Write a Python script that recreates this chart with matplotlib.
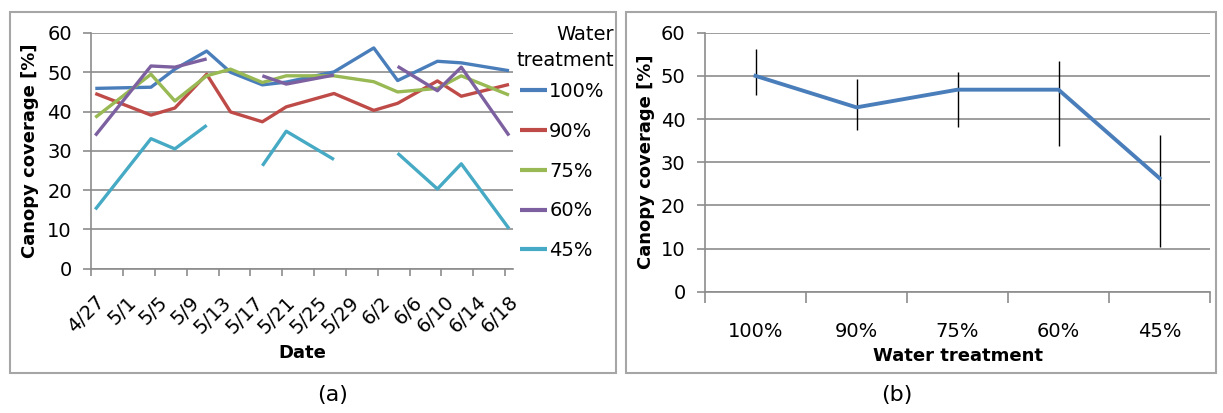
import pandas as pd
import matplotlib
matplotlib.use("Agg")
import matplotlib.pyplot as plt
import matplotlib.dates as mdates
import matplotlib.transforms as mtransforms
from matplotlib.patches import Rectangle

nan = float("nan")

# (a) canopy coverage over time, one series per water treatment
dates = ["4/27", "5/4", "5/7", "5/11", "5/14", "5/18", "5/21",
         "5/27", "6/1", "6/4", "6/9", "6/12", "6/18"]
cov_100 = [45.9, 46.2, 50.8, 55.4, 50.0, 46.8, 47.5, 50.1, 56.2, 47.9, 52.8, 52.4, 50.4]
cov_90 = [44.6, 39.1, 40.9, 49.5, 39.9, 37.4, 41.2, 44.6, 40.3, 42.1, 47.8, 43.9, 46.9]
cov_75 = [38.5, 49.5, 42.7, 49.1, 50.8, 47.4, 49.1, 49.1, 47.6, 45.0, 45.9, 49.1, 44.2]
cov_60 = [33.9, 51.6, 51.3, 53.4, nan, 49.1, 47.0, 49.3, nan, 51.5, 45.3, 51.3, 33.9]
cov_45 = [15.1, 33.1, 30.5, 36.5, nan, 26.2, 35.0, 27.8, nan, 29.4, 20.3, 26.7, 10.2]

series_labels = ["100%", "90%", "75%", "60%", "45%"]
series_colors = ["#4A7EBB", "#BE4B48", "#98B954", "#7D60A0", "#46AAC5"]

# (b) mean canopy coverage per treatment with error range
treatments = ["100%", "90%", "75%", "60%", "45%"]
mean_cov = [50.0, 42.7, 46.8, 46.8, 26.3]
err_low = [45.6, 37.4, 38.2, 33.8, 10.4]
err_high = [56.2, 49.2, 51.0, 53.4, 36.4]

grid_c = "#8C8C8C"
fs = 14
fs_lab = 13

fig = plt.figure(figsize=(12.23, 4.13), dpi=100)
W, H = 1223, 413


def px_axes(x0, y0, x1, y1):
    return fig.add_axes([x0 / W, 1 - y1 / H, (x1 - x0) / W, (y1 - y0) / H])


def style_axes(ax):
    for s in ["top", "right"]:
        ax.spines[s].set_visible(False)
    for s in ["left", "bottom"]:
        ax.spines[s].set_color(grid_c)
        ax.spines[s].set_linewidth(1.2)
    ax.set_ylim(0, 60)
    ax.set_yticks(range(0, 61, 10))
    ax.yaxis.grid(True, color=grid_c, lw=1.2)
    ax.set_axisbelow(True)
    ax.tick_params(axis="both", colors=grid_c, labelcolor="black",
                   labelsize=fs, length=6, width=1.2)
    ax.tick_params(axis="y", pad=8)


# ---- panel (a)
ax1 = px_axes(91.3, 33, 513, 268.7)
style_axes(ax1)
d = pd.to_datetime(dates, format="%m/%d")
x = mdates.date2num(d) + 0.5  # points sit between day ticks
for vals, lab, c in zip([cov_100, cov_90, cov_75, cov_60, cov_45], series_labels, series_colors):
    ax1.plot(x, vals, color=c, lw=2.4, label=lab, solid_capstyle="butt")

start = mdates.date2num(d[0])
ticks = pd.date_range(d[0], d[-1], freq="4D")
ax1.set_xticks(mdates.date2num(ticks))
ax1.set_xticklabels([f"{t.month}/{t.day}" for t in ticks], rotation=45,
                    ha="right", va="center", rotation_mode="anchor")
ax1.set_xlim(start, mdates.date2num(d[-1]) + 1)
ax1.tick_params(axis="x", pad=17, length=5)
off = mtransforms.ScaledTranslation(10 / 100, 0, fig.dpi_scale_trans)
for lbl in ax1.get_xticklabels():
    lbl.set_transform(lbl.get_transform() + off)
ax1.set_xlabel("Date", fontsize=fs_lab, fontweight="bold", labelpad=5)
ax1.set_ylabel("Canopy coverage [%]", fontsize=fs_lab, fontweight="bold", labelpad=6)

# legend title sits right-aligned above the entries
fig.text(614 / W, 1 - 25 / H, "Water\ntreatment", ha="right", va="top",
         multialignment="right", fontsize=fs, linespacing=1.5)
leg = ax1.legend(loc="upper left", bbox_to_anchor=(520 / W, 1 - 82 / H),
                 bbox_transform=fig.transFigure, frameon=False, fontsize=fs,
                 handlelength=1.4, handletextpad=0.1, labelspacing=1.07,
                 borderaxespad=0, borderpad=0)
for h in leg.get_lines():
    h.set_linewidth(3)

# ---- panel (b)
ax2 = px_axes(705, 32.7, 1210, 291.7)
style_axes(ax2)
pos = list(range(len(treatments)))
yerr = [[m - lo for m, lo in zip(mean_cov, err_low)],
        [hi - m for m, hi in zip(mean_cov, err_high)]]
ax2.errorbar(pos, mean_cov, yerr=yerr, color="#4A7EBB", lw=2.8,
             ecolor="black", elinewidth=1, capsize=0, zorder=3)
ax2.set_xlim(-0.5, len(treatments) - 0.5)
ax2.set_xticks([p - 0.5 for p in range(len(treatments) + 1)])
ax2.set_xticklabels([])
ax2.set_xticks(pos, minor=True)
ax2.set_xticklabels(treatments, minor=True)
ax2.tick_params(axis="x", which="major", length=8)
ax2.tick_params(axis="x", which="minor", length=0, pad=22, labelsize=fs)
ax2.set_xlabel("Water treatment", fontsize=fs_lab, fontweight="bold", labelpad=4)
ax2.set_ylabel("Canopy coverage [%]", fontsize=fs_lab, fontweight="bold", labelpad=4)

# frames around each panel and captions
for (bx0, bx1) in [(10, 616), (626, 1216)]:
    fig.add_artist(Rectangle((bx0 / W, 1 - 373 / H), (bx1 - bx0) / W, (373 - 12) / H,
                             transform=fig.transFigure, fill=False,
                             edgecolor="#A6A6A6", lw=1.5))
fig.text(333 / W, 1 - 395 / H, "(a)", ha="center", va="center", fontsize=16)
fig.text(897 / W, 1 - 395 / H, "(b)", ha="center", va="center", fontsize=16)

fig.savefig("out.png", dpi=100)
